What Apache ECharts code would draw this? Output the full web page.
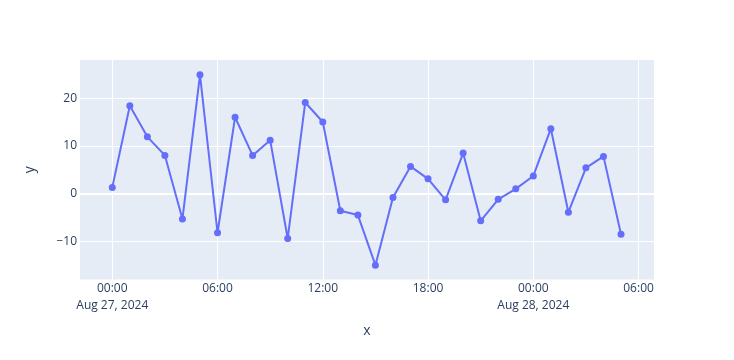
<!DOCTYPE html>
<html>
<head>
<meta charset="utf-8">
<script src="https://cdn.jsdelivr.net/npm/echarts@6/dist/echarts.min.js"></script>
<style>html,body{margin:0;padding:0;background:#fff}#c{width:734px;height:360px}</style>
</head>
<body>
<div id="c"></div>
<script>
const times = [
  "2024-08-27T00:00:00Z","2024-08-27T01:00:00Z","2024-08-27T02:00:00Z","2024-08-27T03:00:00Z",
  "2024-08-27T04:00:00Z","2024-08-27T05:00:00Z","2024-08-27T06:00:00Z","2024-08-27T07:00:00Z",
  "2024-08-27T08:00:00Z","2024-08-27T09:00:00Z","2024-08-27T10:00:00Z","2024-08-27T11:00:00Z",
  "2024-08-27T12:00:00Z","2024-08-27T13:00:00Z","2024-08-27T14:00:00Z","2024-08-27T15:00:00Z",
  "2024-08-27T16:00:00Z","2024-08-27T17:00:00Z","2024-08-27T18:00:00Z","2024-08-27T19:00:00Z",
  "2024-08-27T20:00:00Z","2024-08-27T21:00:00Z","2024-08-27T22:00:00Z","2024-08-27T23:00:00Z",
  "2024-08-28T00:00:00Z","2024-08-28T01:00:00Z","2024-08-28T02:00:00Z","2024-08-28T03:00:00Z",
  "2024-08-28T04:00:00Z","2024-08-28T05:00:00Z"
];
const values = [
  1.3, 18.4, 11.9, 8.0, -5.3, 24.9, -8.2, 16.0, 8.0, 11.2,
  -9.4, 19.1, 15.0, -3.6, -4.5, -15.0, -0.8, 5.7, 3.1, -1.3,
  8.5, -5.7, -1.2, 1.0, 3.7, 13.6, -3.9, 5.4, 7.8, -8.5
];
const xTicks = ["2024-08-27T00:00:00Z","2024-08-27T06:00:00Z","2024-08-27T12:00:00Z",
                "2024-08-27T18:00:00Z","2024-08-28T00:00:00Z","2024-08-28T06:00:00Z"];
const xRange = ["2024-08-26T22:09:36Z", "2024-08-28T06:52:48Z"];
const yTicks = [-10, 0, 10, 20];
const yRange = [-18, 28];

const months = ["Jan","Feb","Mar","Apr","May","Jun","Jul","Aug","Sep","Oct","Nov","Dec"];
const ms = s => Date.parse(s);
const pad = n => (n < 10 ? "0" : "") + n;

const chart = echarts.init(document.getElementById('c'), null, {renderer: 'canvas'});
const font = '"Open Sans", verdana, arial, sans-serif';
const txt = '#2a3f5f';
chart.setOption({
  animation: false,
  backgroundColor: '#fff',
  textStyle: {fontFamily: font},
  grid: {left: 80, right: 80, top: 60, bottom: 80.5, show: true, backgroundColor: '#E5ECF6', borderWidth: 0},
  xAxis: {
    type: 'value',
    min: ms(xRange[0]), max: ms(xRange[1]),
    name: 'x', nameLocation: 'middle', nameGap: 45,
    nameTextStyle: {fontSize: 14, color: txt, fontFamily: font},
    axisLine: {show: false},
    axisTick: {show: false, customValues: xTicks.map(ms)},
    splitLine: {show: true, lineStyle: {color: '#fff', width: 1}},
    axisLabel: {
      customValues: xTicks.map(ms),
      fontSize: 12, color: txt, fontFamily: font, margin: 1, lineHeight: 16.5,
      formatter: function (v) {
        const d = new Date(v);
        const h = d.getUTCHours(), m = d.getUTCMinutes();
        let s = pad(h) + ':' + pad(m);
        if (h === 0 && m === 0) {
          s += '\n' + months[d.getUTCMonth()] + ' ' + d.getUTCDate() + ', ' + d.getUTCFullYear();
        }
        return s;
      }
    }
  },
  yAxis: {
    type: 'value',
    min: yRange[0], max: yRange[1],
    name: 'y', nameLocation: 'middle', nameGap: 43,
    nameTextStyle: {fontSize: 14, color: txt, fontFamily: font},
    axisLine: {show: false},
    axisTick: {show: false, customValues: yTicks},
    splitLine: {show: true, lineStyle: {color: '#fff', width: 1}},
    axisLabel: {customValues: yTicks, fontSize: 12, color: txt, fontFamily: font, margin: 3,
      formatter: v => (v < 0 ? '\u2212' + Math.abs(v) : String(v))}
  },
  series: [
    {
      type: 'line', data: [], z: 1, silent: true,
      markLine: {silent: true, z: 1, symbol: ['none','none'], label: {show: false},
        lineStyle: {color: '#fff', width: 2, type: 'solid'}, animation: false,
        data: [{yAxis: 0}]}
    },
    {
      type: 'line', z: 3,
      data: times.map((t, i) => [ms(t), values[i]]),
      symbol: 'circle', symbolSize: 7,
      lineStyle: {color: '#636EFA', width: 2},
      itemStyle: {color: '#636EFA'}
    }
  ]
});
</script>
</body>
</html>
